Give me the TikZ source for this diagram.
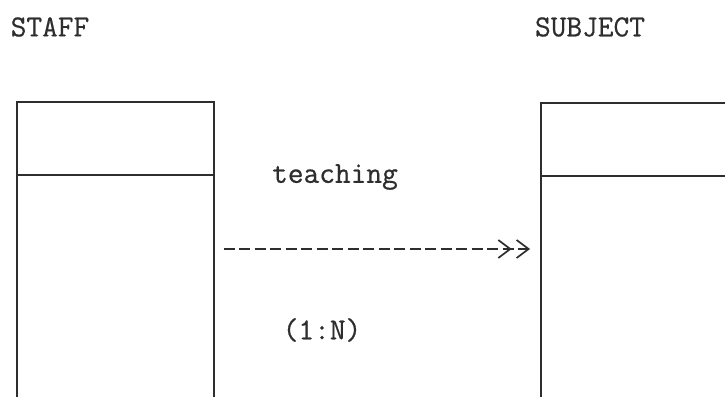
\documentclass[tikz,border=0pt]{standalone}
\usepackage{fontspec}
\newfontfamily\typefont[FakeBold=0.6]{Latin Modern Mono}
\usetikzlibrary{arrows.meta,calc}
\definecolor{ink}{HTML}{2E2E2E}
\tikzset{
  entity/.style={draw=ink, line width=1.5pt, inner sep=0pt, anchor=north west},
  divider/.style={draw=ink, line width=1.5pt},
  lbl/.style={text=ink, font=\typefont\fontsize{30.5}{33}\selectfont, inner sep=0pt},
  rel/.style={draw=ink, line width=2.3pt, dash pattern=on 11pt off 4.5pt,
    -{Straight Barb[length=12pt,width=18pt,line width=1.7pt,sep=4pt]Straight Barb[length=12pt,width=18pt,line width=1.7pt]}}
}
\begin{document}
\begin{tikzpicture}[x=1pt,y=-1pt]
\useasboundingbox (0,0) rectangle (725,396);
\clip (0,0) rectangle (725,396);
\fill[white] (0,0) rectangle (725,396);
% entities
\node[entity, minimum width=197pt, minimum height=330pt] (staffbox) at (16,101) {};
\node[entity, minimum width=260pt, minimum height=330pt] (subjbox) at (540,102) {};
\draw[divider] ($(staffbox.north west)+(0,74)$) -- ($(staffbox.north east)+(0,74)$);
\draw[divider] ($(subjbox.north west)+(0,74)$) -- ($(subjbox.north east)+(0,74)$);
% labels
\node[lbl] (staff) at (50,27) {STAFF};
\node[lbl] (subject) at (590,27) {SUBJECT};
\node[lbl] (teaching) at (335,177) {teaching};
\node[lbl] (card) at (322,330) {(1:N)};
% relationship
\coordinate (ry) at (0,249);
\draw[rel, shorten <=9pt, shorten >=10pt] (staffbox.east |- ry) -- (subjbox.west |- ry);
\end{tikzpicture}
\end{document}
